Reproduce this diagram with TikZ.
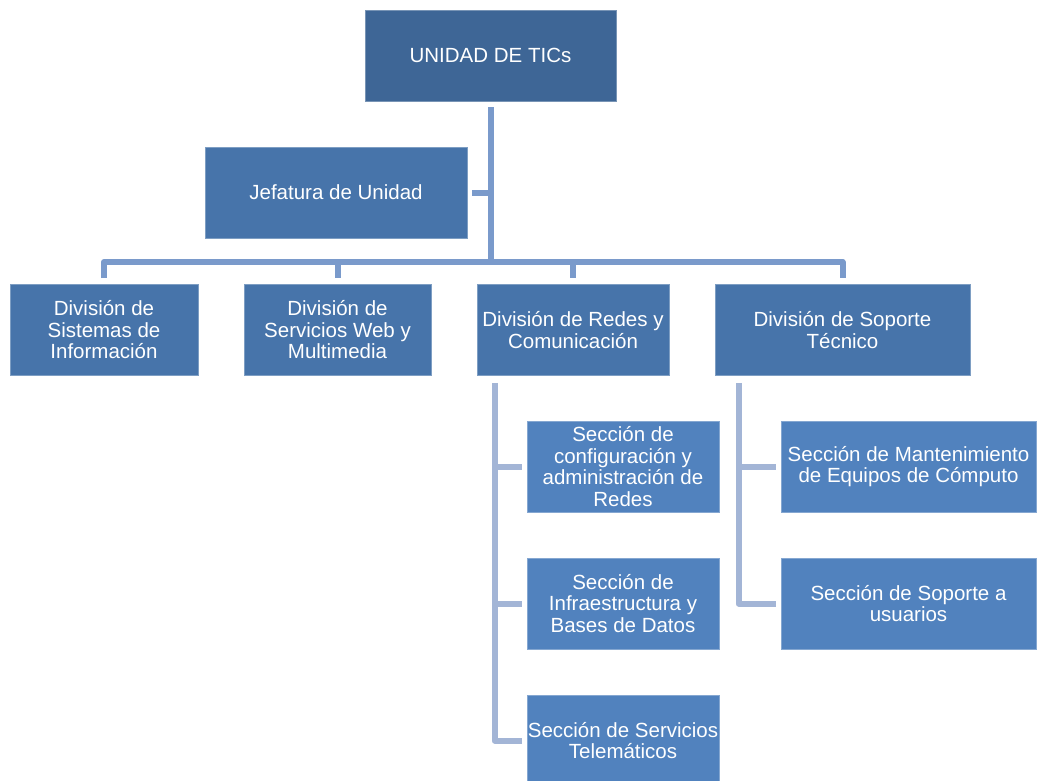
\documentclass[tikz,border=0pt]{standalone}
\usepackage{fontspec}
\setmainfont{Liberation Sans}
\begin{document}
\definecolor{topblue}{HTML}{3E6696}
\definecolor{divblue}{HTML}{4774AA}
\definecolor{secblue}{HTML}{5182BE}
\definecolor{linkmain}{HTML}{7A9ACB}
\definecolor{linksub}{HTML}{A3B5D6}
\begin{tikzpicture}[x=1pt,y=-1pt,
  box/.style={rectangle, inner sep=0pt, align=center, text=white,
    font=\fontsize{20.5pt}{21.5pt}\selectfont, line width=0.6pt},
  topbox/.style={box, fill=topblue, draw=topblue!70!white},
  divbox/.style={box, fill=divblue, draw=divblue!70!white},
  secbox/.style={box, fill=secblue, draw=secblue!70!white},
  conn/.style={draw=linkmain, line width=6pt, line join=round},
  subconn/.style={draw=linksub, line width=6pt, line join=round}]
\useasboundingbox (0,0) rectangle (1038,780);
\clip (0,0) rectangle (1038,780);

% boxes: centre, width, height
\node[topbox, minimum width=251pt, minimum height=91pt] (top) at (490.5,55.5) {UNIDAD DE TICs};
\node[divbox, minimum width=262pt, minimum height=91pt] (jef) at (336,192.5) {Jefatura de Unidad};

\node[divbox, minimum width=188pt, minimum height=91pt] (d1) at (104,330) {División de\\Sistemas de\\Información};
\node[divbox, minimum width=187pt, minimum height=91pt] (d2) at (337.5,330) {División de\\Servicios Web y\\Multimedia};
\node[divbox, minimum width=192pt, minimum height=91pt] (d3) at (573,330) {División de Redes y\\Comunicación};
\node[divbox, minimum width=255pt, minimum height=91pt] (d4) at (842.5,330) {División de Soporte\\Técnico};

\node[secbox, minimum width=192pt, minimum height=91pt] (sA) at (623,466.5) {Sección de\\configuración y\\administración de\\Redes};
\node[secbox, minimum width=192pt, minimum height=91pt] (sB) at (623,603.5) {Sección de\\Infraestructura y\\Bases de Datos};
\node[secbox, minimum width=192pt, minimum height=91pt] (sC) at (623,740.5) {Sección de Servicios\\Telemáticos};

\node[secbox, minimum width=255pt, minimum height=91pt] (sD) at (908.5,466.5) {Sección de Mantenimiento\\de Equipos de Cómputo};
\node[secbox, minimum width=255pt, minimum height=91pt] (sE) at (908.5,603.5) {Sección de Soporte a\\usuarios};

% main tree
\coordinate (bus) at (490.5,262);
\draw[conn] ([yshift=-6pt]top.south) -- (top.south |- bus);
\draw[conn] ([xshift=5pt]jef.east) -- (jef.east -| top.south);
\draw[conn] ([yshift=6pt]d1.north) -- (d1.north |- bus) -- (d4.north |- bus) -- ([yshift=6pt]d4.north);
\draw[conn] (d2.north |- bus) -- ([yshift=6pt]d2.north);
\draw[conn] (d3.north |- bus) -- ([yshift=6pt]d3.north);

% sections of the networks division
\coordinate (s3) at ([xshift=18pt,yshift=-7pt]d3.south west);
\draw[subconn] (s3) |- ([xshift=-5pt]sC.west);
\draw[subconn] (s3 |- sA.west) -- ([xshift=-5pt]sA.west);
\draw[subconn] (s3 |- sB.west) -- ([xshift=-5pt]sB.west);

% sections of the support division
\coordinate (s4) at ([xshift=24pt,yshift=-7pt]d4.south west);
\draw[subconn] (s4) |- ([xshift=-5pt]sE.west);
\draw[subconn] (s4 |- sD.west) -- ([xshift=-5pt]sD.west);
\end{tikzpicture}
\end{document}
